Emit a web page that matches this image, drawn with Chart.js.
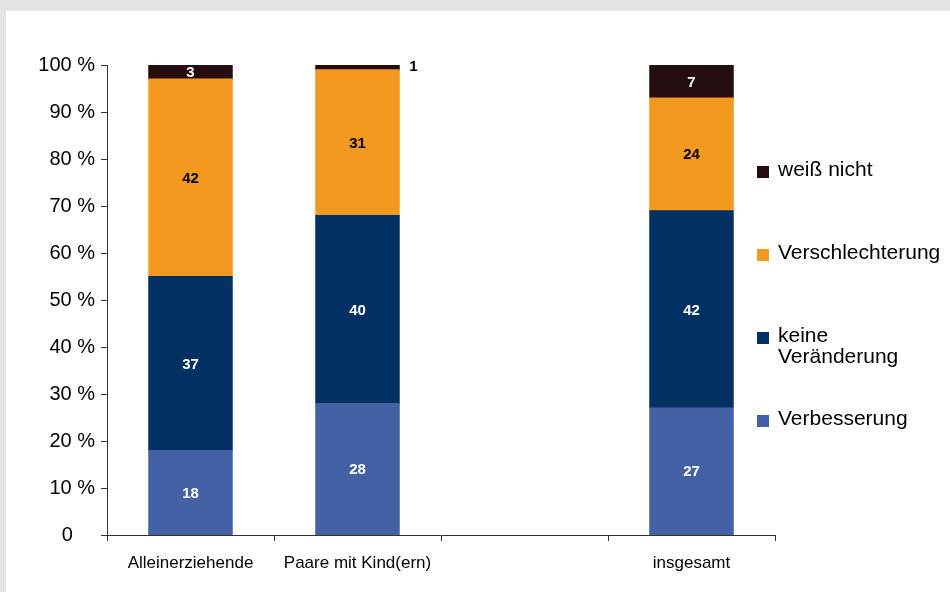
<!DOCTYPE html>
<html>
<head>
<meta charset="utf-8">
<script src="https://cdn.jsdelivr.net/npm/chart.js@4"></script>
<style>
  body { margin: 0; background: #e3e4e6; width: 950px; height: 592px; overflow: hidden; }
  #panel { position: absolute; left: 6px; top: 11px; width: 944px; height: 581px; background: #fff; }
</style>
</head>
<body>
<div id="panel"><canvas id="chart" width="944" height="581"></canvas></div>
<script>
var groups = ['Alleinerziehende', 'Paare mit Kind(ern)', '', 'insgesamt'];
var verbesserung = [18, 28, null, 27];
var keineVeraenderung = [37, 40, null, 42];
var verschlechterung = [42, 31, null, 24];
var weissNicht = [3, 1, null, 7];
var yTicks = [0, 10, 20, 30, 40, 50, 60, 70, 80, 90, 100];

var fontFamily = "Arial, 'Liberation Sans', sans-serif";

// labels inside the segments, small ones go next to the bar
const segmentLabels = {
    id: 'segmentLabels',
    afterDatasetsDraw(chart) {
        const ctx = chart.ctx;
        ctx.save();
        ctx.font = 'bold 15px ' + fontFamily;
        ctx.textBaseline = 'middle';
        chart.data.datasets.forEach((ds, i) => {
            chart.getDatasetMeta(i).data.forEach((bar, j) => {
                const v = ds.data[j];
                if (v == null) return;
                if (v < 2) {
                    ctx.fillStyle = '#000';
                    ctx.textAlign = 'left';
                    ctx.fillText(v, bar.x + bar.width / 2 + 10, bar.y + 2);
                } else {
                    ctx.fillStyle = ds.labelColor;
                    ctx.textAlign = 'center';
                    ctx.fillText(v, bar.x, (bar.y + bar.base) / 2 + 1);
                }
            });
        });
        ctx.restore();
    }
};

// legend on the right, top series first
const sideLegend = {
    id: 'sideLegend',
    afterDraw(chart) {
        const ctx = chart.ctx;
        const x = chart.chartArea.right;
        let y = 161;
        ctx.save();
        ctx.font = '21px ' + fontFamily;
        ctx.textBaseline = 'middle';
        ctx.textAlign = 'left';
        chart.data.datasets.slice().reverse().forEach(ds => {
            ctx.fillStyle = ds.backgroundColor;
            ctx.fillRect(x - 18, y - 6, 12, 12);
            ctx.fillStyle = '#000';
            ds.legendLines.forEach((line, k) => {
                ctx.fillText(line, x + 3, y - 2 + k * 21);
            });
            y += 83;
        });
        ctx.restore();
    }
};

new Chart(document.getElementById('chart'), {
    type: 'bar',
    data: {
        labels: groups,
        datasets: [
            { label: 'Verbesserung', data: verbesserung, backgroundColor: '#4561a5', labelColor: '#fff', legendLines: ['Verbesserung'] },
            { label: 'keine Veränderung', data: keineVeraenderung, backgroundColor: '#023264', labelColor: '#fff', legendLines: ['keine', 'Veränderung'] },
            { label: 'Verschlechterung', data: verschlechterung, backgroundColor: '#f3991f', labelColor: '#000', legendLines: ['Verschlechterung'] },
            { label: 'weiß nicht', data: weissNicht, backgroundColor: '#240d0e', labelColor: '#fff', legendLines: ['weiß nicht'] }
        ]
    },
    options: {
        responsive: false,
        animation: false,
        layout: {
            padding: { left: 0, top: 54, right: 175, bottom: 0 }
        },
        datasets: {
            bar: { categoryPercentage: 1, barPercentage: 0.5, inflateAmount: 0.5 }
        },
        plugins: {
            legend: { display: false },
            tooltip: { enabled: false }
        },
        scales: {
            x: {
                stacked: true,
                grid: {
                    offset: true,
                    drawOnChartArea: false,
                    color: '#333',
                    tickLength: 6
                },
                border: { color: '#333' },
                ticks: {
                    color: '#000',
                    padding: 12,
                    maxRotation: 0,
                    font: { size: 17, family: fontFamily }
                },
                afterFit(scale) { scale.height = 57; }
            },
            y: {
                stacked: true,
                min: 0,
                max: 100,
                afterBuildTicks(scale) { scale.ticks = yTicks.map(v => ({ value: v })); },
                grid: {
                    drawOnChartArea: false,
                    color: '#333',
                    tickLength: 6
                },
                border: { color: '#333' },
                ticks: {
                    color: '#000',
                    padding: 6,
                    font: { size: 20, family: fontFamily },
                    // zero keeps the room of " %" so it lines up with the digits above
                    callback: v => v === 0 ? '0    ' : v + ' %'
                },
                afterFit(scale) { scale.width = 101; }
            }
        }
    },
    plugins: [segmentLabels, sideLegend]
});
</script>
</body>
</html>
